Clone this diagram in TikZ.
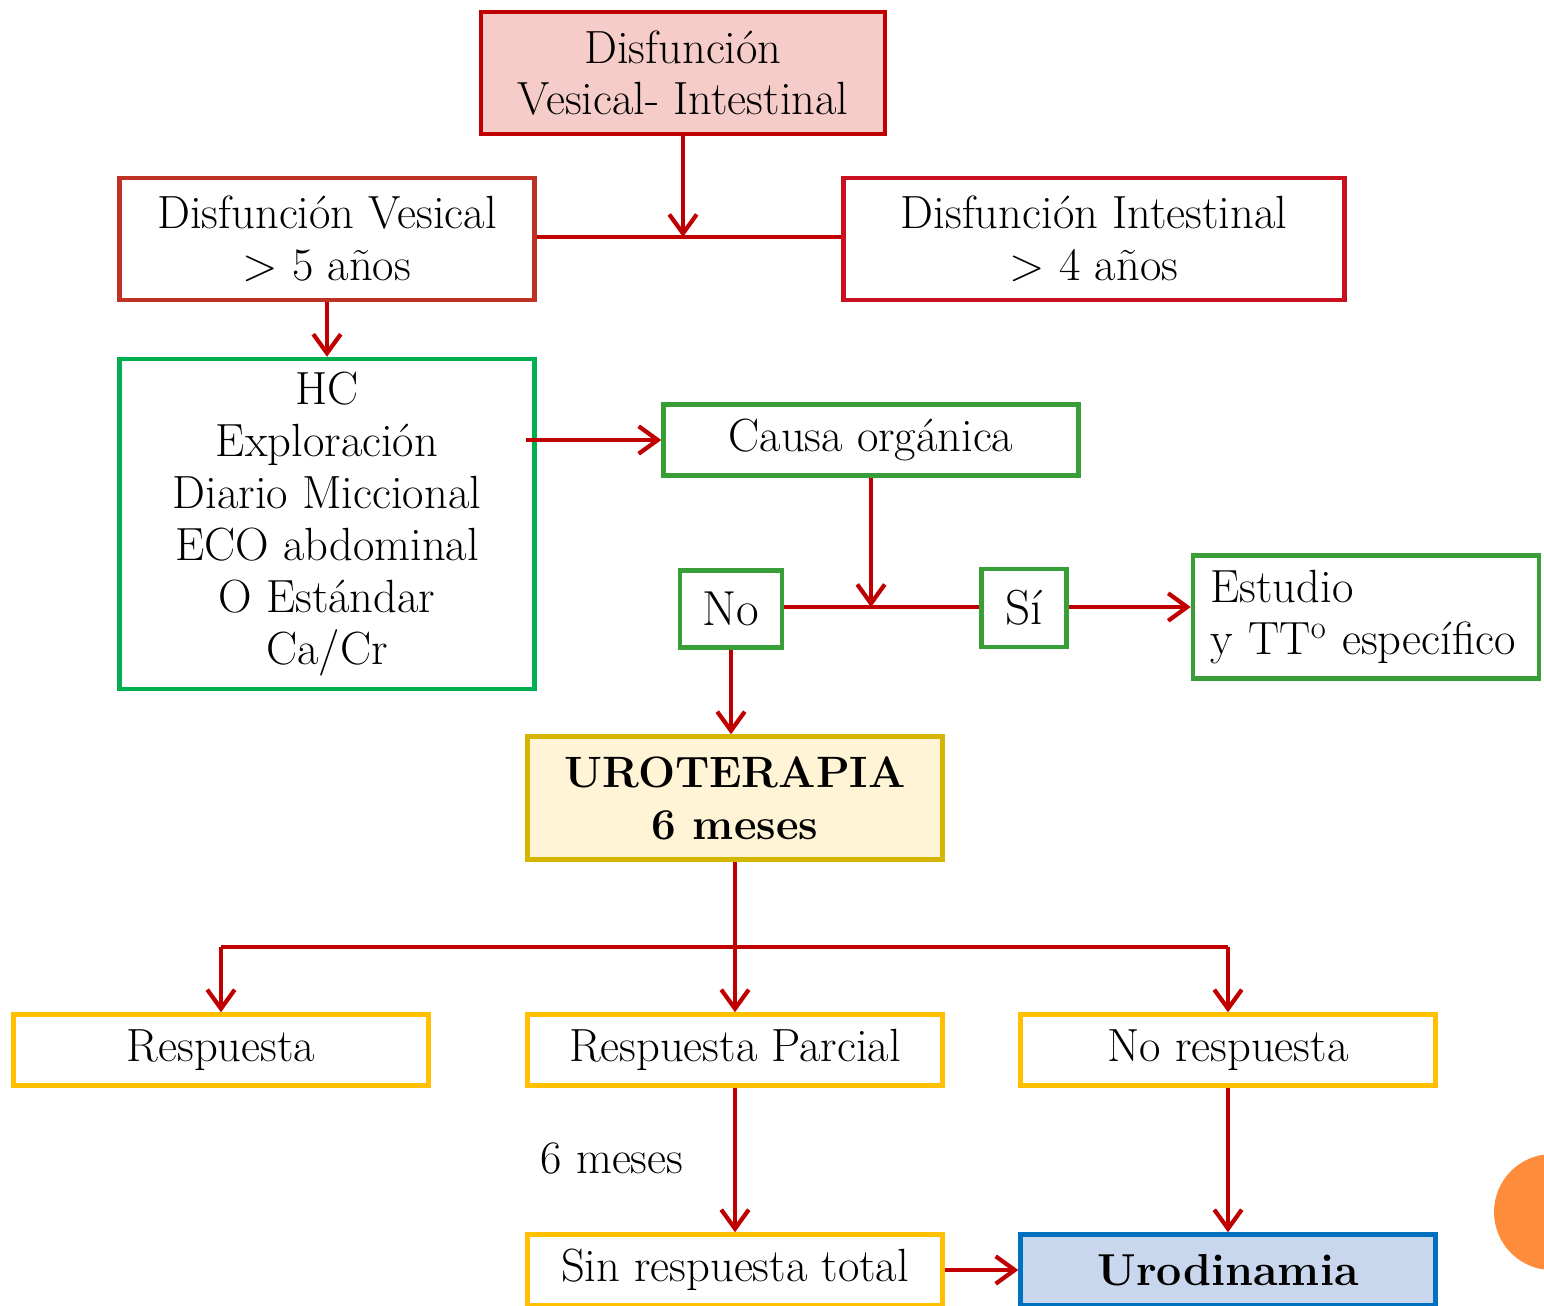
\documentclass[tikz,border=0pt]{standalone}
\usetikzlibrary{arrows.meta,positioning}
\definecolor{linered}{RGB}{192,0,0}
\definecolor{pinkfill}{RGB}{246,204,200}
\definecolor{vesred}{RGB}{190,50,35}
\definecolor{intred}{RGB}{200,16,30}
\definecolor{hcgreen}{RGB}{0,176,80}
\definecolor{okgreen}{RGB}{56,158,56}
\definecolor{urodraw}{RGB}{212,182,0}
\definecolor{urofill}{RGB}{255,244,214}
\definecolor{ambar}{RGB}{255,192,0}
\definecolor{bluedraw}{RGB}{0,112,192}
\definecolor{bluefill}{RGB}{200,215,238}
\definecolor{dotorange}{RGB}{255,140,58}
\tikzset{
  box/.style={draw, line width=2.6pt, align=center, inner sep=0pt,
    font=\fontsize{26.5}{29.5}\selectfont},
  small box/.style={box, minimum width=8.3cm, minimum height=1.42cm},
  answer/.style={box, draw=okgreen, font=\fontsize{28}{32}\selectfont},
  link/.style={line width=2.4pt, draw=linered},
  arrow/.style={link, -{Straight Barb[length=3.8mm, width=5.5mm]}},
}

\begin{document}
\begin{tikzpicture}[x=0.02cm, y=-0.02cm]
  \useasboundingbox (0,0) rectangle (1544,1305);

  % Top: starting point and its two branches
  \node[box, draw=linered, fill=pinkfill, minimum width=8.08cm, minimum height=2.44cm]
    (dvi) at (683,73) {Disfunción\\Vesical- Intestinal};
  \node[box, draw=vesred, minimum width=8.3cm, minimum height=2.44cm]
    (dves) at (327,239) {Disfunción Vesical\\> 5 años};
  \node[box, draw=intred, minimum width=10.02cm, minimum height=2.44cm]
    (dint) at (1094,239) {Disfunción Intestinal\\> 4 años};
  \coordinate (jtop) at (683,237);
  \draw[link] (dves.east |- jtop) -- (dint.west |- jtop);
  \draw[arrow] (dvi) -- (jtop);

  % Work-up and organic cause
  \node[box, draw=hcgreen, minimum width=8.3cm, minimum height=6.6cm]
    (hc) at (327,524) {HC\\Exploración\\Diario Miccional\\ECO abdominal\\O Estándar\\Ca/Cr};
  \node[small box, draw=okgreen] (causa) at (871,440) {Causa orgánica};
  \draw[arrow] (dves) -- (hc);
  \draw[arrow] ([xshift=-6]hc.east |- causa.west) -- (causa.west);

  \node[answer, minimum width=2.04cm, minimum height=1.54cm] (no) at (731,609) {No};
  \node[answer, minimum width=1.7cm, minimum height=1.56cm] (si) at (1024,608) {Sí};
  \node[box, draw=okgreen, align=left, text width=6.22cm, inner xsep=0.35cm,
    minimum height=2.46cm] (estudio) at (1366,617) {Estudio\\y TT\textsuperscript{o} específico};
  \coordinate (jcausa) at (871,607);
  \draw[link] (no.east |- jcausa) -- (si.west |- jcausa);
  \draw[arrow] (causa) -- (jcausa);
  \draw[arrow] (si.east |- jcausa) -- (estudio.west |- jcausa);

  % Urotherapy and outcomes
  \node[box, draw=urodraw, fill=urofill, minimum width=8.3cm, minimum height=2.46cm,
    font=\fontsize{25}{29.5}\selectfont\bfseries] (uro) at (735,798) {UROTERAPIA\\6 meses};
  \draw[arrow] (no) -- (no |- uro.north);

  \node[small box, draw=ambar] (resp) at (221,1050) {Respuesta};
  \node[small box, draw=ambar] (parcial) at (735,1050) {Respuesta Parcial};
  \node[small box, draw=ambar] (noresp) at (1228,1050) {No respuesta};
  \coordinate (jsplit) at (735,947);
  \draw[link] (uro) -- (jsplit);
  \draw[link] (resp |- jsplit) -- (noresp |- jsplit);
  \draw[arrow] (resp |- jsplit) -- (resp);
  \draw[arrow] (jsplit) -- (parcial);
  \draw[arrow] (noresp |- jsplit) -- (noresp);

  % Bottom row
  \node[font=\fontsize{26.5}{29.5}\selectfont] (tseis) at (612,1158) {6 meses};
  \node[small box, draw=ambar] (sinresp) at (735,1270) {Sin respuesta total};
  \node[small box, draw=bluedraw, fill=bluefill, font=\fontsize{25.5}{29.5}\selectfont\bfseries]
    (urodin) at (1228,1270) {Urodinamia};
  \draw[arrow] (parcial) -- (sinresp);
  \draw[arrow] (noresp) -- (urodin);
  \draw[arrow] (sinresp) -- (urodin);

  \fill[dotorange] (1552,1212) circle (1.16cm);
\end{tikzpicture}
\end{document}
